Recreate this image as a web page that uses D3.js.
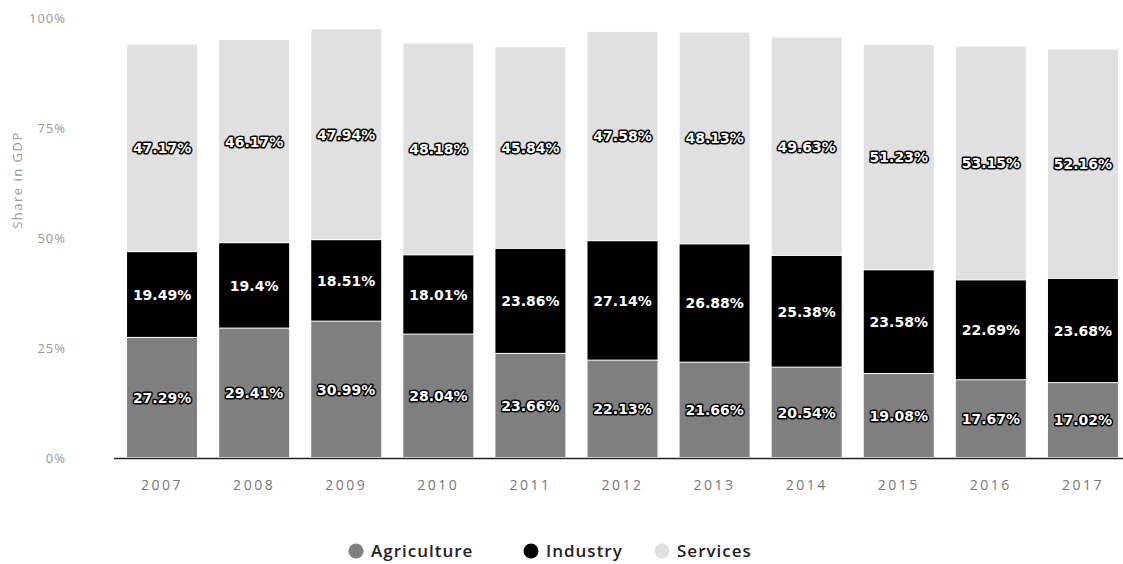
<!DOCTYPE html>
<html>
<head>
<meta charset="utf-8">
<script src="https://cdn.jsdelivr.net/npm/d3@7"></script>
<style>
  body { margin: 0; background: #fff; }
  svg { display: block; }
  .tick text { fill: #777; font-family: "Open Sans", sans-serif; font-size: 14px; letter-spacing: 2.5px; }
  .label { font-family: "DejaVu Sans", sans-serif; font-weight: bold; font-size: 14px; fill: #fff;
           stroke: #000; stroke-width: 3px; paint-order: stroke; stroke-linejoin: round; }
  .legend text { font-family: "Open Sans", sans-serif; font-size: 17px; font-weight: 600; fill: #222; letter-spacing: 1px; }
</style>
</head>
<body>
<div id="chart"></div>
<script>
const years = ["2007", "2008", "2009", "2010", "2011", "2012", "2013", "2014", "2015", "2016", "2017"];
const agriculture = [27.29, 29.41, 30.99, 28.04, 23.66, 22.13, 21.66, 20.54, 19.08, 17.67, 17.02];
const industry = [19.49, 19.4, 18.51, 18.01, 23.86, 27.14, 26.88, 25.38, 23.58, 22.69, 23.68];
const services = [47.17, 46.17, 47.94, 48.18, 45.84, 47.58, 48.13, 49.63, 51.23, 53.15, 52.16];
const seriesNames = ["Agriculture", "Industry", "Services"];
const seriesColors = ["#7f7f7f", "#000000", "#e0e0e0"];
const yTicks = [0, 25, 50, 75, 100];

const width = 1123, height = 564;
const svg = d3.select("#chart").append("svg").attr("width", width).attr("height", height);

const x = d3.scaleBand().domain(years).range([116, 1129]).paddingInner(0.24).paddingOuter(0.12);
const y = d3.scaleLinear().domain([0, 100]).range([458, 18]);

// stacked data
const rows = years.map((yr, i) => ({ year: yr, Agriculture: agriculture[i], Industry: industry[i], Services: services[i] }));
const stacked = d3.stack().keys(seriesNames)(rows);

// y axis labels (no line)
const yAxis = svg.append("g")
  .attr("transform", "translate(66,0)")
  .call(d3.axisLeft(y).tickValues(yTicks).tickFormat(d => d + "%").tickSize(0).tickPadding(0));
yAxis.select(".domain").remove();
yAxis.selectAll(".tick text").style("fill", "#999").style("font-size", "13px").style("letter-spacing", "1px");

svg.append("text")
  .attr("transform", "translate(22,180) rotate(-90)")
  .attr("text-anchor", "middle")
  .style("font-family", "'Open Sans', sans-serif")
  .style("font-size", "13px")
  .style("letter-spacing", "1.5px")
  .style("fill", "#9a9a9a")
  .text("Share in GDP");

// bars
const layers = svg.append("g").selectAll("g").data(stacked).join("g")
  .attr("fill", (d, i) => seriesColors[i]);

layers.selectAll("rect").data(d => d).join("rect")
  .attr("x", d => x(d.data.year))
  .attr("width", x.bandwidth())
  .attr("y", d => y(d[1]))
  .attr("height", d => y(d[0]) - y(d[1]) - 1);

// value labels
stacked.forEach(layer => {
  svg.append("g").selectAll("text").data(layer).join("text")
    .attr("class", "label")
    .attr("x", d => x(d.data.year) + x.bandwidth() / 2)
    .attr("y", d => y((d[0] + d[1]) / 2))
    .attr("dy", "0.35em")
    .attr("text-anchor", "middle")
    .text(d => d.data[layer.key] + "%");
});

// x axis
const xAxis = svg.append("g")
  .attr("transform", "translate(0,458)")
  .call(d3.axisBottom(x).tickSize(0).tickPadding(22));
xAxis.select(".domain").remove();
svg.append("line")
  .attr("x1", 114).attr("x2", width)
  .attr("y1", 458.5).attr("y2", 458.5)
  .attr("stroke", "#222").attr("stroke-width", 1.5);

// legend
const legendItems = [
  { name: "Agriculture", cx: 356 },
  { name: "Industry", cx: 531 },
  { name: "Services", cx: 662 }
];
const legend = svg.append("g").attr("class", "legend");
legendItems.forEach((item, i) => {
  legend.append("circle").attr("cx", item.cx).attr("cy", 551).attr("r", 7.5).attr("fill", seriesColors[i]);
  legend.append("text").attr("x", item.cx + 15).attr("y", 551).attr("dy", "0.35em").text(item.name);
});
</script>
</body>
</html>
